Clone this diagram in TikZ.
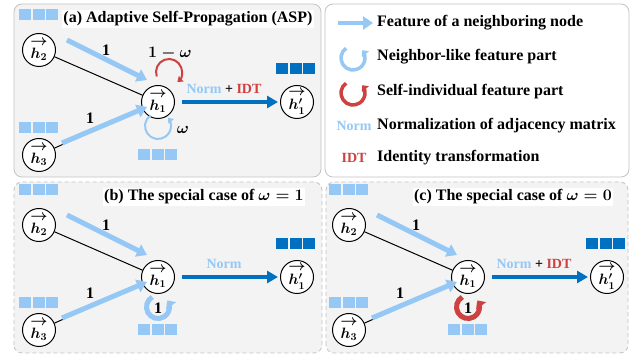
\RequirePackage{fix-cm}
\documentclass[tikz,border=0pt]{standalone}
\usepackage{amsmath, amssymb}
\usepackage{fontspec}
\setmainfont{Liberation Serif}
\usetikzlibrary{arrows.meta}

\definecolor{lblue}{RGB}{150,200,245}
\definecolor{dblue}{RGB}{0,112,192}
\definecolor{lred}{RGB}{205,65,65}
\definecolor{panelgray}{RGB}{243,243,243}
\definecolor{framegray}{RGB}{195,195,195}

\newcommand{\featrow}[3]{\foreach \k in {-1,0,1} {\fill[#3] (#1+\k*13.5-6,#2-5.5) rectangle ++(12,11);}}
\newcommand{\hvec}[1]{\shortstack{$\rightarrow$\\$#1$}}

\tikzset{
  vnode/.style={circle, draw, line width=1pt, fill=white, minimum size=33pt, inner sep=0pt,
    font=\fontsize{15}{17}\selectfont\boldmath},
  nbarrow/.style={lblue, line width=5pt, -{Triangle[length=10pt,width=13pt]}},
  outarrow/.style={dblue, line width=4pt, shorten <=7pt, shorten >=2pt, -{Triangle[length=11pt,width=12pt]}},
  thinloop/.style={line width=2pt, -{Triangle[length=5pt,width=7pt]}},
  thickloop/.style={line width=5pt, -{Triangle[length=6.5pt,width=12pt]}},
  lbl/.style={font=\fontsize{16}{18}\selectfont\bfseries\boldmath},
  smalllbl/.style={font=\fontsize{14}{16}\selectfont\bfseries},
  panelbox/.style={framegray, line width=0.8pt, fill=panelgray, rounded corners=8pt},
}

\begin{document}
\begin{tikzpicture}[x=1pt, y=1pt]
\useasboundingbox (0,0) rectangle (634,355);
\fill[white] (0,0) rectangle (634,355);

% Panel frames
\draw[panelbox] (14,178) rectangle (321,351);
\draw[panelbox, fill=white] (325,178) rectangle (629,351);
\draw[panelbox, dash pattern=on 4pt off 3pt] (14,2) rectangle (322,173);
\draw[panelbox, dash pattern=on 4pt off 3pt] (326,2) rectangle (628,173);

% Common graph of the three panels
\foreach \p/\dx/\dy in {a/0/0, b/0/-175, c/310/-175} {
\begin{scope}[shift={(\dx,\dy)}]
\node[vnode] (h2\p) at (39,305) {\hvec{h_2}};
\node[vnode] (h3\p) at (39,200) {\hvec{h_3}};
\node[vnode] (h1\p) at (158,253) {\hvec{h_1}};
\node[vnode] (h1p\p) at (297,253) {\hvec{h'_1}};
\draw[line width=1pt] (h2\p) -- (h1\p);
\draw[line width=1pt] (h3\p) -- (h1\p);
\coordinate (n2s\p) at (67,315);
\coordinate (n2e\p) at (147,275);
\coordinate (n3s\p) at (62,212);
\coordinate (n3e\p) at (147,248);
\draw[nbarrow] (n2s\p) -- (n2e\p);
\draw[nbarrow] (n3s\p) -- (n3e\p);
\node[lbl] (w2\p) at (106,305) {1};
\node[lbl] (w3\p) at (90,237) {1};
\draw[outarrow] (h1\p) -- (h1p\p);
\featrow{38.5}{340}{lblue}
\featrow{38.5}{227.5}{lblue}
\featrow{157.5}{200.5}{lblue}
\featrow{295.5}{286}{dblue}
\end{scope}
}

% (a) Adaptive self-propagation
\node[lbl, fill=white, inner sep=1.5pt] (ta) at (188,336) {(a) Adaptive Self-Propagation (ASP)};
\draw[lred, thinloop] ([shift={(11,30)}]h1a.center) ++(200:13) arc[start angle=200, end angle=-50, radius=13];
\draw[lblue, thinloop] ([shift={(0,-24)}]h1a.center) ++(125:13) arc[start angle=125, end angle=400, radius=13];
\node[lbl] (sa) at (170,302) {$\mathbf{1}-\boldsymbol{\omega}$};
\node[lbl] (oa) at (183,225) {$\boldsymbol{\omega}$};
\node[smalllbl] (ea) at (224,266) {\textcolor{lblue}{Norm} + \textcolor{lred}{IDT}};

% (b) omega = 1
\node[lbl, fill=white, inner sep=1.5pt] (tb) at (204,158) {(b) The special case of $\boldsymbol{\omega}=\mathbf{1}$};
\draw[lblue, thickloop] ([shift={(0,-30)}]h1b.center) ++(120:11.5) arc[start angle=120, end angle=395, radius=11.5];
\node[lbl] (ob) at ([yshift=-31pt]h1b.center) {1};
\node[smalllbl, text=lblue] (eb) at (224,91) {Norm};

% (c) omega = 0
\node[lbl, fill=white, inner sep=1.5pt] (tc) at (513,158) {(c) The special case of $\boldsymbol{\omega}=\mathbf{0}$};
\draw[lred, thickloop] ([shift={(0,-30)}]h1c.center) ++(120:11.5) arc[start angle=120, end angle=395, radius=11.5];
\node[lbl] (oc) at ([yshift=-31pt]h1c.center) {1};
\node[smalllbl] (ec) at (534,91) {\textcolor{lblue}{Norm} + \textcolor{lred}{IDT}};

% Legend
\draw[nbarrow, line width=4pt] (338,332) -- (373,332);
\draw[lblue, line width=3.5pt, -{Triangle[length=5pt,width=9pt]}] (353,297) ++(125:12) arc[start angle=125, end angle=400, radius=12];
\draw[lred, line width=3.5pt, -{Triangle[length=5pt,width=9pt]}] (353,262) ++(125:12) arc[start angle=125, end angle=400, radius=12];
\node[smalllbl, text=lblue] (kn) at (354,229) {Norm};
\node[smalllbl, text=lred] (ki) at (354,197) {IDT};
\node[lbl, anchor=west, inner sep=0pt] (l1) at (377,332) {Feature of a neighboring node};
\node[lbl, anchor=west, inner sep=0pt] (l2) at (377,298) {Neighbor-like feature part};
\node[lbl, anchor=west, inner sep=0pt] (l3) at (377,263) {Self-individual feature part};
\node[lbl, anchor=west, inner sep=0pt] (l4) at (377,229) {Normalization of adjacency matrix};
\node[lbl, anchor=west, inner sep=0pt] (l5) at (377,197) {Identity transformation};
\end{tikzpicture}
\end{document}
